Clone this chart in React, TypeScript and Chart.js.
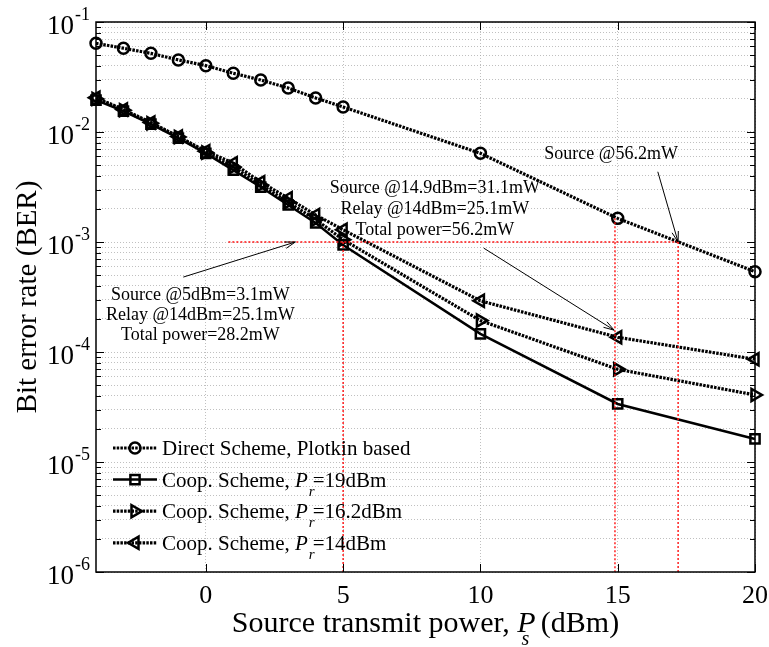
import { useEffect, useRef } from 'react';
import { Chart, registerables } from 'chart.js';

Chart.register(...registerables);

const SERIF = '"Liberation Serif", "Times New Roman", serif';

// Source transmit power (dBm) at which the BER was evaluated
const powerDbm = [-4, -3, -2, -1, 0, 1, 2, 3, 4, 5, 10, 15, 20];

// Bit error rate of each scheme
const berDirect = [0.064, 0.0577, 0.0519, 0.0452, 0.0401, 0.0342, 0.0297, 0.0251, 0.0204, 0.0169, 0.0064, 0.00164, 0.000537];
const berCoop19 = [0.0195, 0.0155, 0.0118, 0.0088, 0.0064, 0.0045, 0.00316, 0.00217, 0.00149, 0.00094, 0.000146, 0.0000337, 0.0000162];
const berCoop162 = [0.02, 0.0158, 0.012, 0.009, 0.0065, 0.0048, 0.0033, 0.0023, 0.0016, 0.00105, 0.000193, 0.0000696, 0.0000407];
const berCoop14 = [0.0205, 0.016, 0.0122, 0.0091, 0.0067, 0.0052, 0.0035, 0.0025, 0.00176, 0.00129, 0.000292, 0.000136, 0.0000859];

// Axis ticks
const xTickValues = [0, 5, 10, 15, 20];
const yDecades = [-6, -5, -4, -3, -2, -1];

// Target BER and the operating points found at that target (data coordinates)
const targetBer = 1e-3;
const guideLines = [
  { x1: 0.82, y1: targetBer, x2: 17.2, y2: targetBer },
  { x1: 5, y1: targetBer, x2: 5, y2: 1e-6 },
  { x1: 14.9, y1: 0.00164, x2: 14.9, y2: 1e-6 },
  { x1: 17.2, y1: targetBer, x2: 17.2, y2: 1e-6 },
];
const arrows = [
  { x1: 16.46, y1: 0.00435, x2: 17.2, y2: targetBer },
  { x1: 10.12, y1: 0.00088, x2: 14.87, y2: 0.000158 },
  { x1: -0.82, y1: 0.00048, x2: 3.26, y2: targetBer },
];
const noteTexts = [
  'Source @56.2mW',
  'Source @14.9dBm=31.1mW',
  'Relay @14dBm=25.1mW',
  'Total power=56.2mW',
  'Source @5dBm=3.1mW',
  'Relay @14dBm=25.1mW',
  'Total power=28.2mW',
];
const noteX = [14.76, 8.34, 8.34, 8.34, -0.2, -0.2, -0.2];
const noteY = [0.0063, 0.0031, 0.002, 0.00129, 0.00033, 0.000217, 0.000143];

type Part = { t: string; it?: boolean; sub?: boolean; dx?: number };

// Legend entries (rich text so P_r can be subscripted)
const legendParts: Part[][] = [
  [{ t: 'Direct Scheme, Plotkin based' }],
  [{ t: 'Coop. Scheme, ' }, { t: 'P', it: true }, { t: 'r', it: true, sub: true, dx: 1 }, { t: '=19dBm', dx: -2 }],
  [{ t: 'Coop. Scheme, ' }, { t: 'P', it: true }, { t: 'r', it: true, sub: true, dx: 1 }, { t: '=16.2dBm', dx: -2 }],
  [{ t: 'Coop. Scheme, ' }, { t: 'P', it: true }, { t: 'r', it: true, sub: true, dx: 1 }, { t: '=14dBm', dx: -2 }],
];
const xTitleParts: Part[] = [
  { t: 'Source transmit power, ' },
  { t: 'P', it: true },
  { t: 's', it: true, sub: true, dx: -14 },
  { t: ' (dBm)', dx: 4 },
];
const yTitle = 'Bit error rate (BER)';

type Style = { dash: number[]; width: number; marker: 'circle' | 'rect' | 'tri'; rot: number; radius: number };
const seriesStyles: Style[] = [
  { dash: [2.5, 1.2], width: 3.2, marker: 'circle', rot: 0, radius: 5.5 },
  { dash: [], width: 2.5, marker: 'rect', rot: 0, radius: 6.5 },
  { dash: [2.5, 1.2], width: 3.2, marker: 'tri', rot: 90, radius: 7 },
  { dash: [2.5, 1.2], width: 3.2, marker: 'tri', rot: 270, radius: 7 },
];

function fontOf(p: Part, size: number, subSize: number) {
  return `${p.it ? 'italic ' : ''}${p.sub ? subSize : size}px ${SERIF}`;
}

function richWidth(ctx: CanvasRenderingContext2D, parts: Part[], size: number, subSize: number) {
  let w = 0;
  for (const p of parts) {
    ctx.font = fontOf(p, size, subSize);
    w += (p.dx || 0) + ctx.measureText(p.t).width;
  }
  return w;
}

function drawRich(ctx: CanvasRenderingContext2D, parts: Part[], x: number, y: number, size: number, subSize: number, drop: number) {
  let cx = x;
  ctx.textAlign = 'left';
  ctx.textBaseline = 'alphabetic';
  for (const p of parts) {
    ctx.font = fontOf(p, size, subSize);
    cx += p.dx || 0;
    ctx.fillText(p.t, cx, p.sub ? y + drop : y);
    cx += ctx.measureText(p.t).width;
  }
}

function drawMarker(ctx: CanvasRenderingContext2D, s: Style, x: number, y: number) {
  ctx.beginPath();
  if (s.marker === 'circle') {
    ctx.arc(x, y, s.radius, 0, Math.PI * 2);
  } else if (s.marker === 'rect') {
    const h = s.radius * Math.SQRT1_2;
    ctx.rect(x - h, y - h, 2 * h, 2 * h);
  } else {
    let a = (s.rot * Math.PI) / 180;
    for (let i = 0; i < 3; i++) {
      const px = x + Math.sin(a) * s.radius;
      const py = y - Math.cos(a) * s.radius;
      if (i === 0) ctx.moveTo(px, py);
      else ctx.lineTo(px, py);
      a += (2 * Math.PI) / 3;
    }
    ctx.closePath();
  }
  ctx.stroke();
}

const isDecade = (v: number) => Math.abs(Math.log10(v) - Math.round(Math.log10(v))) < 1e-9;

const overlayPlugin = {
  id: 'berOverlay',
  afterDatasetsDraw(chart: any) {
    const { ctx, chartArea: a, scales } = chart;
    const sx = scales.x;
    const sy = scales.y;
    const px = (v: number) => sx.getPixelForValue(v);
    const py = (v: number) => sy.getPixelForValue(v);
    ctx.save();

    // red dotted guide lines at the target BER
    ctx.strokeStyle = '#ff1010';
    ctx.lineWidth = 1.4;
    ctx.setLineDash([2, 2]);
    for (const g of guideLines) {
      ctx.beginPath();
      ctx.moveTo(px(g.x1), py(g.y1));
      ctx.lineTo(px(g.x2), py(g.y2));
      ctx.stroke();
    }
    ctx.setLineDash([]);

    // arrows
    ctx.strokeStyle = '#000';
    ctx.lineWidth = 1;
    for (const r of arrows) {
      const x1 = px(r.x1), y1 = py(r.y1), x2 = px(r.x2), y2 = py(r.y2);
      ctx.beginPath();
      ctx.moveTo(x1, y1);
      ctx.lineTo(x2, y2);
      const ang = Math.atan2(y2 - y1, x2 - x1);
      const L = 11, h = 0.3;
      ctx.moveTo(x2 - L * Math.cos(ang - h), y2 - L * Math.sin(ang - h));
      ctx.lineTo(x2, y2);
      ctx.lineTo(x2 - L * Math.cos(ang + h), y2 - L * Math.sin(ang + h));
      ctx.stroke();
    }

    // annotation text
    ctx.fillStyle = '#000';
    ctx.font = `18px ${SERIF}`;
    ctx.textAlign = 'center';
    ctx.textBaseline = 'middle';
    noteTexts.forEach((t, i) => ctx.fillText(t, px(noteX[i]), py(noteY[i])));

    // axes box
    ctx.strokeStyle = '#000';
    ctx.lineWidth = 1.5;
    ctx.strokeRect(a.left, a.top, a.right - a.left, a.bottom - a.top);

    // inward tick marks
    ctx.lineWidth = 1;
    ctx.beginPath();
    for (const t of sy.ticks) {
      const y = Math.round(py(t.value)) + 0.5;
      const len = isDecade(t.value) ? 8 : 5;
      ctx.moveTo(a.left, y);
      ctx.lineTo(a.left + len, y);
      ctx.moveTo(a.right, y);
      ctx.lineTo(a.right - len, y);
    }
    for (const v of xTickValues) {
      const x = Math.round(px(v)) + 0.5;
      ctx.moveTo(x, a.bottom);
      ctx.lineTo(x, a.bottom - 8);
      ctx.moveTo(x, a.top);
      ctx.lineTo(x, a.top + 8);
    }
    ctx.stroke();

    // x tick labels
    ctx.font = `26px ${SERIF}`;
    ctx.textAlign = 'center';
    ctx.textBaseline = 'alphabetic';
    for (const v of xTickValues) ctx.fillText(String(v), px(v), a.bottom + 31);

    // y tick labels: 10 with superscript exponent
    for (const e of yDecades) {
      const y = py(Math.pow(10, e));
      ctx.font = `27px ${SERIF}`;
      ctx.textAlign = 'right';
      ctx.fillText('10', a.left - 22, y + 12);
      ctx.font = `18px ${SERIF}`;
      ctx.textAlign = 'left';
      ctx.fillText(String(e), a.left - 21, y - 2);
    }

    // axis titles
    const xw = richWidth(ctx, xTitleParts, 30, 20);
    drawRich(ctx, xTitleParts, (a.left + a.right) / 2 - xw / 2, a.bottom + 60, 30, 20, 13);
    ctx.save();
    ctx.translate(36, (a.top + a.bottom) / 2);
    ctx.rotate(-Math.PI / 2);
    ctx.font = `29px ${SERIF}`;
    ctx.textAlign = 'center';
    ctx.textBaseline = 'alphabetic';
    ctx.fillText(yTitle, 0, 0);
    ctx.restore();

    // legend
    const lx0 = a.left + 17, lx1 = a.left + 61, rowY0 = 448, rowGap = 31.6;
    legendParts.forEach((parts, i) => {
      const s = seriesStyles[i];
      const y = rowY0 + i * rowGap;
      ctx.strokeStyle = '#000';
      ctx.lineWidth = s.width;
      ctx.setLineDash(s.dash);
      ctx.beginPath();
      ctx.moveTo(lx0, y);
      ctx.lineTo(lx1, y);
      ctx.stroke();
      ctx.setLineDash([]);
      ctx.lineWidth = 2.5;
      drawMarker(ctx, s, (lx0 + lx1) / 2, y);
      ctx.fillStyle = '#000';
      drawRich(ctx, parts, lx1 + 5, y + 7, 21, 15, 9);
    });

    ctx.restore();
  },
};

export default function App() {
  const canvasRef = useRef<HTMLCanvasElement>(null);

  useEffect(() => {
    const canvas = canvasRef.current;
    if (!canvas) return;
    const series = [berDirect, berCoop19, berCoop162, berCoop14];
    const labels = ['Direct Scheme, Plotkin based', 'Coop. Scheme, Pr=19dBm', 'Coop. Scheme, Pr=16.2dBm', 'Coop. Scheme, Pr=14dBm'];
    const chart = new Chart(canvas, {
      type: 'line',
      data: {
        datasets: series.map((ber, i) => {
          const s = seriesStyles[i];
          return {
            label: labels[i],
            data: powerDbm.map((p, k) => ({ x: p, y: ber[k] })),
            borderColor: '#000',
            backgroundColor: 'rgba(0,0,0,0)',
            borderWidth: s.width,
            borderDash: s.dash,
            tension: 0,
            clip: false,
            pointStyle: s.marker === 'tri' ? 'triangle' : s.marker,
            pointRotation: s.rot,
            pointRadius: s.radius,
            pointBorderWidth: 2.5,
            pointBorderColor: '#000',
            pointBackgroundColor: 'rgba(0,0,0,0)',
          };
        }),
      },
      options: {
        responsive: false,
        animation: false,
        events: [],
        layout: { padding: { left: 96, top: 22, right: 14, bottom: 75 } },
        plugins: { legend: { display: false }, tooltip: { enabled: false } },
        scales: {
          x: {
            type: 'linear',
            min: -4,
            max: 20,
            afterBuildTicks: (scale: any) => {
              scale.ticks = xTickValues.map((v) => ({ value: v }));
            },
            ticks: { display: false },
            grid: { drawTicks: false, color: 'rgba(165,165,165,0.7)', lineWidth: 1 },
            border: { display: false, dash: [1, 2] },
          },
          y: {
            type: 'logarithmic',
            min: 1e-6,
            max: 1e-1,
            afterBuildTicks: (scale: any) => {
              const t: { value: number }[] = [];
              for (const e of yDecades) {
                if (e === -1) {
                  t.push({ value: 0.1 });
                  continue;
                }
                for (let m = 1; m <= 9; m++) t.push({ value: m * Math.pow(10, e) });
              }
              scale.ticks = t;
            },
            ticks: { display: false },
            grid: { drawTicks: false, color: 'rgba(165,165,165,0.7)', lineWidth: 1 },
            border: { display: false, dash: [1, 2] },
          },
        },
      },
      plugins: [overlayPlugin],
    });
    return () => chart.destroy();
  }, []);

  return (
    <div style={{ position: 'absolute', left: 0, top: 0, width: 769, height: 647, background: '#fff' }}>
      <canvas ref={canvasRef} width={769} height={647} />
    </div>
  );
}
